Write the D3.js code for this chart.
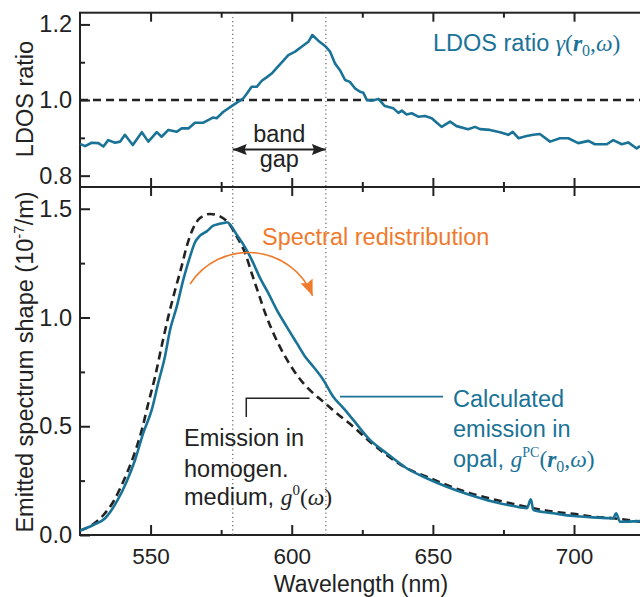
<!DOCTYPE html>
<html>
<head>
<meta charset="utf-8">
<script src="https://cdn.jsdelivr.net/npm/d3@7"></script>
<style>
  html, body { margin: 0; padding: 0; background: #fff; }
  svg { display: block; }
</style>
</head>
<body>
<svg id="chart" width="640" height="597"></svg>
<script>
// LDOS ratio (top panel)
const ldosWl = [525.0,526.8,529.1,531.5,533.3,535.0,537.4,539.2,540.9,543.7,546.9,549.2,552.2,553.9,556.3,559.3,561.0,563.4,565.7,568.7,570.4,572.2,573.4,575.8,578.7,581.1,582.8,584.0,585.8,587.6,589.4,591.1,592.9,594.7,596.4,598.8,601.2,603.5,605.9,607.3,609.4,611.8,613.6,615.3,617.1,618.9,620.6,622.4,624.2,625.4,626.6,628.3,630.7,633.0,636.0,637.8,639.0,640.7,642.5,644.8,647.2,649.6,651.4,653.1,656.1,658.4,662.5,664.9,666.7,670.2,673.8,676.7,678.3,680.3,683.2,685.6,687.9,691.5,695.0,698.0,701.5,705.1,707.4,711.6,713.9,716.9,719.2,722.2,723.4];
const ldosVal = [0.884,0.878,0.887,0.886,0.877,0.894,0.887,0.890,0.908,0.881,0.915,0.890,0.915,0.903,0.921,0.916,0.925,0.925,0.940,0.940,0.947,0.954,0.952,0.969,0.984,0.996,1.004,1.016,1.035,1.035,1.051,1.060,1.070,1.085,1.099,1.119,1.128,1.141,1.154,1.172,1.157,1.143,1.128,1.097,1.079,1.053,1.048,1.031,1.022,1.019,1.0,0.998,1.003,0.984,0.978,0.966,0.972,0.962,0.965,0.956,0.958,0.952,0.940,0.929,0.943,0.931,0.923,0.929,0.923,0.921,0.915,0.908,0.916,0.899,0.905,0.908,0.910,0.890,0.899,0.899,0.886,0.892,0.883,0.883,0.894,0.883,0.888,0.872,0.878];

// calculated emission in opal (solid)
const calcWl = [525.0,529.7,533.9,538.0,541.5,544.5,547.4,550.4,552.7,555.1,556.9,559.3,561.6,564.0,565.7,567.5,569.9,572.2,573.9,575.8,577.1,578.2,580.5,582.9,585.8,588.8,591.7,594.7,598.2,601.8,604.7,607.6,611.2,614.7,618.3,621.8,627.7,633.6,640.7,647.8,654.9,663.2,671.4,678.5,683.3,684.7,685.6,692.7,699.8,706.8,713.9,714.9,716.3,723.4];
const calcVal = [0.020,0.046,0.077,0.153,0.245,0.345,0.468,0.575,0.698,0.821,0.943,1.051,1.174,1.281,1.345,1.376,1.396,1.422,1.429,1.434,1.438,1.427,1.381,1.335,1.266,1.181,1.112,1.035,0.958,0.882,0.821,0.775,0.713,0.636,0.583,0.529,0.437,0.376,0.307,0.261,0.222,0.184,0.153,0.133,0.123,0.164,0.115,0.100,0.087,0.081,0.077,0.100,0.061,0.064];

// emission in homogeneous medium (dashed)
const homWl = [525.0,529.5,533.3,536.8,540.3,543.9,546.9,549.2,551.6,553.9,556.3,558.7,561.0,562.8,565.1,567.5,571.1,574.6,577.6,580.5,583.5,585.8,588.2,590.6,593.5,597.0,600.6,604.1,607.6,611.2,615.9,621.8,627.7,633.6,640.7,647.8,654.9,663.2,671.4,678.5,685.6,692.7,699.8,706.8,713.9,723.4];
const homVal = [0.020,0.048,0.092,0.153,0.245,0.360,0.483,0.606,0.728,0.867,1.005,1.127,1.235,1.327,1.411,1.457,1.476,1.465,1.434,1.373,1.296,1.204,1.112,1.020,0.928,0.836,0.759,0.698,0.652,0.613,0.560,0.498,0.429,0.368,0.307,0.268,0.230,0.192,0.164,0.143,0.123,0.107,0.097,0.084,0.077,0.061];

const xTicks = [550, 600, 650, 700];
const xMinor = [575, 625, 675];
const topTicks = [0.8, 1.0, 1.2];
const topMinor = [0.9, 1.1];
const botTicks = [0, 0.5, 1.0, 1.5];
const botMinor = [0.25, 0.75, 1.25];
const bandGap = [579.1, 612.1];

const BLUE = "#1a7397";
const ORANGE = "#f07a2b";
const INK = "#222";
const SANS = "'Liberation Sans', Arial, Helvetica, sans-serif";
const SERIF = "'Liberation Serif', 'Times New Roman', serif";
const FS = 23.5;

const svg = d3.select("#chart");
const x = d3.scaleLinear().domain([525, 725]).range([80, 644.6]);
const yTop = d3.scaleLinear().domain([0.77, 1.231]).range([187, 12.7]);
const yBot = d3.scaleLinear().domain([0, 1.6]).range([535, 187]);

const defs = svg.append("defs");
function arrowMarker(id, color, len, half) {
  defs.append("marker")
    .attr("id", id)
    .attr("viewBox", `${-len} ${-half} ${len} ${half * 2}`)
    .attr("refX", 0).attr("refY", 0)
    .attr("markerWidth", len).attr("markerHeight", half * 2)
    .attr("markerUnits", "userSpaceOnUse")
    .attr("orient", "auto-start-reverse")
    .append("path")
    .attr("d", `M0,0L${-len},${-half}L${-len * 0.85},0L${-len},${half}Z`)
    .attr("fill", color);
}
arrowMarker("arrOrange", ORANGE, 16, 6.5);
arrowMarker("arrBlack", INK, 14, 5.5);

// frames
[[yTop], [yBot]].forEach(([y]) => {
  svg.append("rect")
    .attr("x", x(525)).attr("y", y.range()[1])
    .attr("width", x(725) - x(525)).attr("height", y.range()[0] - y.range()[1])
    .attr("fill", "none").attr("stroke", INK).attr("stroke-width", 2);
});

function styleAxis(g, fs = FS) {
  g.select(".domain").remove();
  g.selectAll(".tick line").attr("stroke", INK).attr("stroke-width", 2);
  g.selectAll(".tick text").attr("fill", INK).style("font-family", SANS).style("font-size", fs + "px");
}

// x ticks on all horizontal borders
const hBorders = [
  { y: yTop.range()[1], axis: d3.axisTop },
  { y: yTop.range()[0], axis: d3.axisBottom },
  { y: yBot.range()[1], axis: d3.axisTop },
];
hBorders.forEach(b => {
  svg.append("g").attr("transform", `translate(0,${b.y})`)
    .call(b.axis(x).tickValues(xTicks).tickSize(-9).tickFormat(""))
    .call(styleAxis);
  svg.append("g").attr("transform", `translate(0,${b.y})`)
    .call(b.axis(x).tickValues(xMinor).tickSize(-5).tickFormat(""))
    .call(styleAxis);
});
svg.append("g").attr("transform", `translate(0,${yBot.range()[0]})`)
  .call(d3.axisBottom(x).tickValues(xTicks).tickSizeInner(-10).tickSizeOuter(0).tickPadding(13).tickFormat(d3.format("d")))
  .call(g => styleAxis(g, 22.5));
svg.append("g").attr("transform", `translate(0,${yBot.range()[0]})`)
  .call(d3.axisBottom(x).tickValues(xMinor).tickSize(-5).tickFormat(""))
  .call(styleAxis);

// y axes
svg.append("g").attr("transform", `translate(${x(525)},0)`)
  .call(d3.axisLeft(yTop).tickValues(topTicks).tickSizeInner(-10).tickSizeOuter(0).tickPadding(8).tickFormat(d3.format(".1f")))
  .call(styleAxis);
svg.append("g").attr("transform", `translate(${x(525)},0)`)
  .call(d3.axisLeft(yTop).tickValues(topMinor).tickSize(-5).tickFormat(""))
  .call(styleAxis);
svg.append("g").attr("transform", `translate(${x(525)},0)`)
  .call(d3.axisLeft(yBot).tickValues(botTicks).tickSizeInner(-10).tickSizeOuter(0).tickPadding(8).tickFormat(d3.format(".1f")))
  .call(styleAxis);
svg.append("g").attr("transform", `translate(${x(525)},0)`)
  .call(d3.axisLeft(yBot).tickValues(botMinor).tickSize(-5).tickFormat(""))
  .call(styleAxis);

// band gap edges (dotted)
svg.selectAll("line.gap").data(bandGap).enter().append("line")
  .attr("x1", d => x(d)).attr("x2", d => x(d))
  .attr("y1", yTop.range()[1]).attr("y2", yBot.range()[0])
  .attr("stroke", "#666").attr("stroke-width", 1.2).attr("stroke-dasharray", "1.2,3");

// reference line at 1.0
svg.append("line")
  .attr("x1", x(525)).attr("x2", x(725))
  .attr("y1", yTop(1)).attr("y2", yTop(1))
  .attr("stroke", INK).attr("stroke-width", 2.4).attr("stroke-dasharray", "8,5");

// curves
const ldos = d3.zip(ldosWl, ldosVal);
const calc = d3.zip(calcWl, calcVal);
const hom = d3.zip(homWl, homVal);

svg.append("path").datum(ldos)
  .attr("d", d3.line().x(d => x(d[0])).y(d => yTop(d[1])))
  .attr("fill", "none").attr("stroke", BLUE).attr("stroke-width", 2.6).attr("stroke-linejoin", "round");

svg.append("path").datum(hom)
  .attr("d", d3.line().curve(d3.curveMonotoneX).x(d => x(d[0])).y(d => yBot(d[1])))
  .attr("fill", "none").attr("stroke", INK).attr("stroke-width", 2.6).attr("stroke-dasharray", "8,5");

svg.append("path").datum(calc)
  .attr("d", d3.line().curve(d3.curveMonotoneX).x(d => x(d[0])).y(d => yBot(d[1])))
  .attr("fill", "none").attr("stroke", BLUE).attr("stroke-width", 2.6).attr("stroke-linejoin", "round");

// band gap arrow
const gapY = yTop(0.869);
svg.append("line")
  .attr("x1", x(bandGap[0])).attr("x2", x(bandGap[1]))
  .attr("y1", gapY).attr("y2", gapY)
  .attr("stroke", INK).attr("stroke-width", 2)
  .attr("marker-start", "url(#arrBlack)").attr("marker-end", "url(#arrBlack)");

const gapMid = (x(bandGap[0]) + x(bandGap[1])) / 2;
svg.append("text").attr("x", gapMid).attr("y", 141.5).attr("text-anchor", "middle")
  .style("font-family", SANS).style("font-size", FS + "px").attr("fill", INK).text("band");
svg.append("text").attr("x", gapMid).attr("y", 167).attr("text-anchor", "middle")
  .style("font-family", SANS).style("font-size", FS + "px").attr("fill", INK).text("gap");

// spectral redistribution arc (circle through three points)
const pA = [x(564.0), yBot(1.154)], pB = [x(584.1), yBot(1.299)], pC = [x(607.4), yBot(1.100)];
function circleR(a, b, c) {
  const d = 2 * (a[0] * (b[1] - c[1]) + b[0] * (c[1] - a[1]) + c[0] * (a[1] - b[1]));
  const ux = ((a[0] ** 2 + a[1] ** 2) * (b[1] - c[1]) + (b[0] ** 2 + b[1] ** 2) * (c[1] - a[1]) + (c[0] ** 2 + c[1] ** 2) * (a[1] - b[1])) / d;
  const uy = ((a[0] ** 2 + a[1] ** 2) * (c[0] - b[0]) + (b[0] ** 2 + b[1] ** 2) * (a[0] - c[0]) + (c[0] ** 2 + c[1] ** 2) * (b[0] - a[0])) / d;
  return Math.hypot(a[0] - ux, a[1] - uy);
}
const r = circleR(pA, pB, pC);
svg.append("path")
  .attr("d", `M${pA[0]},${pA[1]}A${r},${r} 0 0 1 ${pC[0]},${pC[1]}`)
  .attr("fill", "none").attr("stroke", ORANGE).attr("stroke-width", 1.6)
  .attr("marker-end", "url(#arrOrange)");

svg.append("text").attr("x", 262).attr("y", 245)
  .style("font-family", SANS).style("font-size", FS + "px").attr("fill", ORANGE)
  .text("Spectral redistribution");

// leader lines
svg.append("path")
  .attr("d", d3.line()([[x(583.9), yBot(0.543)], [x(583.9), yBot(0.629)], [x(606.3), yBot(0.629)]]))
  .attr("fill", "none").attr("stroke", INK).attr("stroke-width", 1.5);
svg.append("line")
  .attr("x1", x(617.1)).attr("x2", x(653.6))
  .attr("y1", yBot(0.636)).attr("y2", yBot(0.636))
  .attr("stroke", BLUE).attr("stroke-width", 1.6);

// helper for rich text lines
function richLine(xp, yp, color, parts) {
  const t = svg.append("text").attr("x", xp).attr("y", yp).attr("fill", color)
    .style("font-family", SANS).style("font-size", FS + "px");
  parts.forEach(p => {
    const s = t.append("tspan").text(p.t);
    if (p.serif) s.style("font-family", SERIF);
    if (p.it) s.style("font-style", "italic");
    if (p.bold) s.style("font-weight", "bold");
    if (p.fs) s.style("font-size", p.fs + "px");
    if (p.dy) s.attr("dy", p.dy);
  });
  return t;
}

// top-right label
richLine(433, 51, BLUE, [
  { t: "LDOS ratio " },
  { t: "\u03B3", serif: true, it: true },
  { t: "(", serif: true },
  { t: "r", serif: true, it: true, bold: true },
  { t: "0", serif: true, fs: 16, dy: 5 },
  { t: ",", serif: true, dy: -5 },
  { t: "\u03C9", serif: true, it: true },
  { t: ")", serif: true }
]);

// homogeneous medium label
richLine(184, 445.5, INK, [{ t: "Emission in" }]);
richLine(184, 476.5, INK, [{ t: "homogen." }]);
richLine(184, 505, INK, [
  { t: "medium, " },
  { t: "g", serif: true, it: true },
  { t: "0", serif: true, fs: 15, dy: -10 },
  { t: "(", serif: true, dy: 10 },
  { t: "\u03C9", serif: true, it: true },
  { t: ")", serif: true }
]);

// opal label
richLine(453, 406.5, BLUE, [{ t: "Calculated" }]);
richLine(453, 436.5, BLUE, [{ t: "emission in" }]);
richLine(453, 466.5, BLUE, [
  { t: "opal, " },
  { t: "g", serif: true, it: true },
  { t: "PC", serif: true, fs: 14, dy: -10 },
  { t: "(", serif: true, dy: 10 },
  { t: "r", serif: true, it: true, bold: true },
  { t: "0", serif: true, fs: 16, dy: 5 },
  { t: ",", serif: true, dy: -5 },
  { t: "\u03C9", serif: true, it: true },
  { t: ")", serif: true }
]);

// axis titles
svg.append("text").attr("transform", "translate(33,99) rotate(-90)").attr("text-anchor", "middle")
  .style("font-family", SANS).style("font-size", FS + "px").attr("fill", INK).text("LDOS ratio");

const yl = svg.append("text").attr("transform", "translate(32.5,362) rotate(-90)").attr("text-anchor", "middle")
  .style("font-family", SANS).style("font-size", FS + "px").attr("fill", INK);
yl.append("tspan").text("Emitted spectrum shape (10");
yl.append("tspan").text("-7").style("font-size", "15px").attr("dy", -9);
yl.append("tspan").text("/m)").attr("dy", 9);

svg.append("text").attr("x", 361).attr("y", 591.5).attr("text-anchor", "middle")
  .style("font-family", SANS).style("font-size", "23px").attr("fill", INK).text("Wavelength (nm)");
</script>
</body>
</html>
